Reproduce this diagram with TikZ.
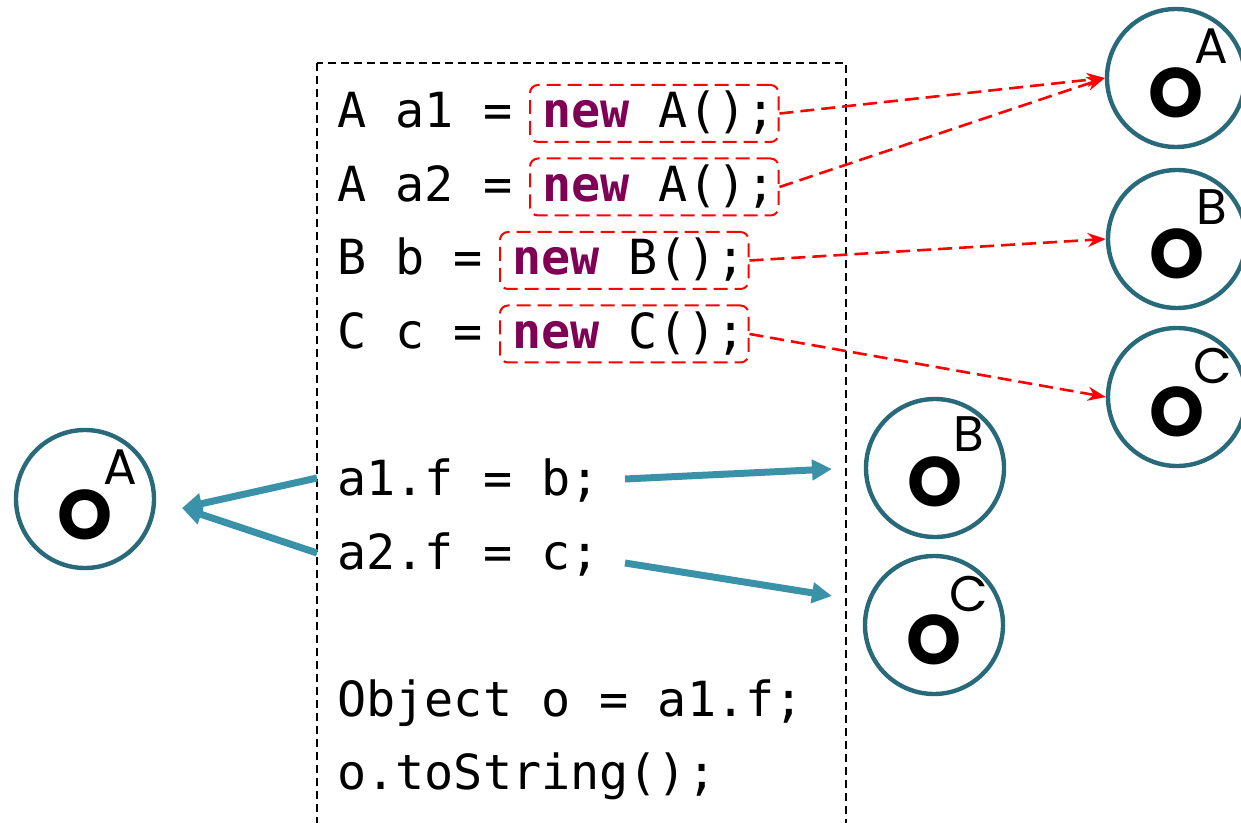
\documentclass[tikz,border=0pt]{standalone}
\usepackage{fontspec}
\usetikzlibrary{arrows.meta}
\newfontfamily\codefont{DejaVu Sans Mono}
\newfontfamily\objfont{Poppins}
\definecolor{kwpurple}{RGB}{127,0,85}
\definecolor{objteal}{RGB}{40,106,122}
\definecolor{fieldteal}{RGB}{58,146,168}
\newcommand{\kw}[1]{\textcolor{kwpurple}{\bfseries #1}}
\tikzstyle{code}=[inner sep=0pt,anchor=base west,font=\codefont\fontsize{24.2pt}{29pt}\selectfont]
\tikzstyle{newbox}=[code,draw=red,line width=1pt,dash pattern=on 7pt off 3.5pt,rounded corners=4pt,
  inner xsep=1.5pt,inner ysep=0pt,text height=21.5pt,text depth=7pt]
\tikzstyle{obj}=[circle,draw=objteal,line width=2.2pt,minimum size=69pt,inner sep=0pt]
\tikzstyle{objo}=[inner sep=0pt,font=\objfont\bfseries\fontsize{35pt}{35pt}\selectfont]
\tikzstyle{objsup}=[inner sep=0pt,font=\objfont\fontsize{25pt}{25pt}\selectfont]

\begin{document}
\begin{tikzpicture}[x=0.5pt,y=-0.5pt]
\tikzset{alloc/.style={draw=red,line width=1.3pt,dash pattern=on 7pt off 3.5pt,-{Stealth[length=9pt,width=7pt]}},
  field/.style={draw=fieldteal,line width=3.5pt,-{Triangle[length=10pt,width=10pt]}}}
\useasboundingbox (0,0) rectangle (1241,823);

\draw[line width=1pt,dash pattern=on 4pt off 2.5pt] (317,63) rectangle (846,850);

% allocations
\node[code] (d1) at (337,128) {A a1 =};
\node[newbox,anchor=base west] (n1) at (529,128) {\hspace*{4.7pt}\kw{new} A();};
\node[code] (d2) at (337,201.5) {A a2 =};
\node[newbox,anchor=base west] (n2) at (529,201.5) {\hspace*{4.7pt}\kw{new} A();};
\node[code] (d3) at (337,275) {B b =};
\node[newbox,anchor=base west] (n3) at (499,275) {\hspace*{4.7pt}\kw{new} B();};
\node[code] (d4) at (337,348.5) {C c =};
\node[newbox,anchor=base west] (n4) at (499,348.5) {\hspace*{4.7pt}\kw{new} C();};

% field stores and the load
\node[code] (f1) at (337,495.5) {a1.f = b;};
\node[code] (f2) at (337,569) {a2.f = c;};
\node[code] (ld) at (337,716) {Object o = a1.f;};
\node[code] (cl) at (337,789.5) {o.toString();};

% abstract objects
\node[obj] (oA1) at (1176,78) {};
\node[objo] (oA1o) at (1176,93) {O};
\node[objsup] (oA1s) at (1211,46) {A};
\node[obj] (oB1) at (1177,239) {};
\node[objo] (oB1o) at (1177,254) {O};
\node[objsup] (oB1s) at (1212,207) {B};
\node[obj] (oC1) at (1177,397) {};
\node[objo] (oC1o) at (1177,412) {O};
\node[objsup] (oC1s) at (1213,366) {C};

\node[obj] (oA2) at (85,499) {};
\node[objo] (oA2o) at (85,515) {O};
\node[objsup] (oA2s) at (120,467) {A};
\node[obj] (oB2) at (935,468) {};
\node[objo] (oB2o) at (935,482) {O};
\node[objsup] (oB2s) at (969,434) {B};
\node[obj] (oC2) at (934,625) {};
\node[objo] (oC2o) at (934,640) {O};
\node[objsup] (oC2s) at (969,594) {C};

\draw[alloc] (n1.east) -- (oA1.west);
\draw[alloc] (n2.east) -- (oA1.west);
\draw[alloc] (n3.east) -- (oB1.west);
\draw[alloc] (n4.east) -- (oC1.west);

\coordinate (f1s) at (625,479);
\coordinate (f1e) at (832,469);
\coordinate (f2s) at (625,563);
\coordinate (f2e) at (832,596);
\coordinate (b1s) at (317,478);
\coordinate (b2s) at (317,553);
\coordinate (tipA) at (182,508);
\draw[field] (f1s) -- (f1e);
\draw[field] (f2s) -- (f2e);
\draw[field] (b1s) -- (tipA);
\draw[field] (b2s) -- (tipA);
\end{tikzpicture}
\end{document}
